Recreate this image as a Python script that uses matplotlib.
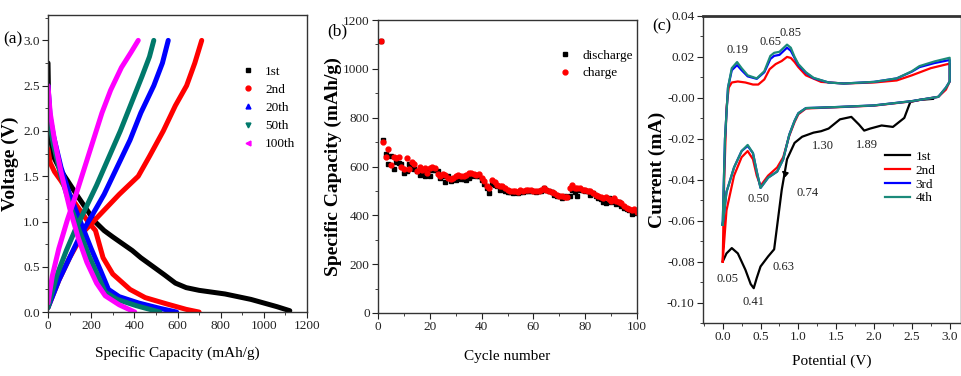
import matplotlib
matplotlib.use('Agg')
import matplotlib.pyplot as plt
from matplotlib.lines import Line2D
from matplotlib.ticker import MultipleLocator
import numpy as np

plt.rcParams['font.family'] = ['Liberation Serif', 'DejaVu Serif']
plt.rcParams['axes.unicode_minus'] = False
plt.rcParams['xtick.direction'] = 'out'
plt.rcParams['ytick.direction'] = 'out'

# ---------------- (a) charge/discharge profiles ----------------
cycles_a = ['1st', '2nd', '20th', '50th', '100th']
colors_a = ['black', '#ff0000', '#0000ff', '#00796b', '#ff00ff']
markers_a = ['s', 'o', '^', 'v', '<']

dis_cap = [
    [0, 3, 10, 25, 50, 77, 110, 140, 180, 217, 260, 300, 348, 390, 430, 488, 540, 590, 640,
     700, 760, 820, 880, 940, 1000, 1060, 1100, 1120],
    [0, 10, 30, 60, 120, 185, 220, 255, 300, 380, 450, 550, 640, 700],
    [0, 10, 25, 60, 100, 150, 200, 245, 280, 330, 420, 520, 596],
    [0, 10, 25, 60, 100, 145, 190, 235, 265, 320, 410, 518],
    [0, 10, 30, 60, 100, 140, 180, 225, 265, 330, 402],
]
dis_v = [
    [2.75, 2.3, 1.95, 1.72, 1.6, 1.5, 1.38, 1.27, 1.13, 1.0, 0.9, 0.83, 0.75, 0.68, 0.6, 0.5,
     0.41, 0.32, 0.27, 0.24, 0.22, 0.2, 0.17, 0.14, 0.10, 0.06, 0.03, 0.015],
    [1.8, 1.65, 1.55, 1.45, 1.22, 1.0, 0.9, 0.6, 0.42, 0.25, 0.16, 0.09, 0.03, 0.0],
    [2.5, 2.15, 1.95, 1.6, 1.3, 1.0, 0.7, 0.45, 0.25, 0.17, 0.1, 0.04, 0.0],
    [2.3, 2.05, 1.85, 1.5, 1.2, 0.9, 0.62, 0.38, 0.22, 0.14, 0.07, 0.0],
    [2.5, 2.2, 1.9, 1.55, 1.15, 0.82, 0.55, 0.32, 0.18, 0.08, 0.0],
]
chg_cap = [
    [],
    [0, 50, 100, 170, 250, 330, 418, 470, 534, 590, 642, 680, 712],
    [0, 50, 100, 150, 200, 260, 320, 380, 430, 490, 530, 557],
    [0, 40, 85, 130, 175, 225, 280, 335, 385, 435, 470, 490],
    [0, 20, 50, 90, 130, 170, 210, 250, 290, 340, 385, 418],
]
chg_v = [
    [],
    [0.05, 0.35, 0.6, 0.9, 1.1, 1.3, 1.5, 1.72, 2.0, 2.28, 2.5, 2.75, 3.0],
    [0.05, 0.35, 0.6, 0.85, 1.05, 1.3, 1.6, 1.9, 2.2, 2.5, 2.75, 3.0],
    [0.05, 0.4, 0.68, 0.93, 1.15, 1.4, 1.7, 2.0, 2.3, 2.6, 2.82, 3.0],
    [0.1, 0.4, 0.7, 1.02, 1.3, 1.6, 1.9, 2.2, 2.45, 2.7, 2.87, 3.0],
]

# ---------------- (b) cycling performance ----------------
cycle_no = list(range(1, 101))
discharge = [1115, 710, 650, 610, 645, 590, 620, 615, 610, 575,
             580, 610, 600, 590, 580, 565, 575, 560, 580, 560,
             585, 585, 580, 555, 560, 535, 560, 540, 550, 545,
             555, 550, 550, 545, 555, 560, 565, 560, 560, 545,
             530, 510, 490, 530, 525, 520, 505, 515, 500, 495,
             495, 490, 495, 490, 495, 495, 500, 500, 500, 500,
             495, 500, 500, 510, 505, 500, 495, 485, 480, 480,
             470, 480, 475, 480, 505, 495, 480, 505, 505, 500,
             500, 485, 490, 480, 470, 465, 455, 450, 470, 455,
             460, 445, 455, 440, 430, 425, 420, 405, 415, 410]
charge = [1115, 700, 640, 670, 605, 640, 635, 640, 600, 590,
          635, 590, 620, 610, 580, 600, 585, 595, 575, 595,
          600, 595, 570, 560, 570, 565, 555, 550, 555, 560,
          565, 560, 560, 565, 575, 575, 570, 565, 570, 555,
          540, 520, 510, 545, 535, 525, 520, 520, 510, 505,
          500, 500, 500, 495, 505, 500, 505, 505, 505, 500,
          500, 500, 505, 510, 505, 500, 495, 490, 485, 480,
          480, 475, 475, 510, 525, 510, 510, 510, 505, 505,
          500, 500, 490, 485, 480, 475, 470, 475, 465, 460,
          470, 460, 455, 450, 440, 430, 425, 420, 425, 415]

# ---------------- (c) cyclic voltammetry ----------------
cv_labels = ['1st', '2nd', '3rd', '4th']
cv_colors = ['black', '#ff0000', '#0000ff', '#1b8a7a']
cv_e = [
    [2.78, 2.6, 2.48, 2.4, 2.25, 2.1, 1.95, 1.87, 1.8, 1.7, 1.55, 1.4, 1.3, 1.2, 1.05, 0.95, 0.85,
     0.78, 0.73, 0.68, 0.6, 0.5, 0.45, 0.41, 0.37, 0.3, 0.2, 0.12, 0.05, 0.0],
    [0.0, 0.02, 0.05, 0.08, 0.12, 0.2, 0.3, 0.4, 0.47, 0.55, 0.62, 0.7, 0.78, 0.85, 0.9, 0.95, 1.0,
     1.1, 1.3, 1.6, 2.0, 2.3, 2.5, 2.75, 2.95, 3.0,
     3.0, 2.95, 2.85, 2.5, 2.0, 1.5, 1.1, 1.0, 0.95, 0.88, 0.8, 0.72, 0.6, 0.5, 0.45, 0.4, 0.33,
     0.25, 0.15, 0.05, 0.0],
    [0.0, 0.03, 0.07, 0.12, 0.19, 0.25, 0.33, 0.45, 0.55, 0.63, 0.68, 0.75, 0.85, 0.9, 0.95, 1.0,
     1.1, 1.2, 1.4, 1.6, 2.0, 2.3, 2.5, 2.6, 2.8, 3.0,
     3.0, 2.95, 2.85, 2.5, 2.0, 1.5, 1.1, 1.0, 0.95, 0.88, 0.8, 0.72, 0.6, 0.5, 0.45, 0.4, 0.33,
     0.25, 0.15, 0.05, 0.0],
    [0.0, 0.03, 0.07, 0.12, 0.19, 0.25, 0.33, 0.45, 0.55, 0.63, 0.68, 0.75, 0.85, 0.9, 0.95, 1.0,
     1.1, 1.2, 1.4, 1.6, 2.0, 2.3, 2.5, 2.6, 2.8, 3.0,
     3.0, 2.95, 2.85, 2.5, 2.0, 1.5, 1.1, 1.0, 0.95, 0.88, 0.8, 0.72, 0.6, 0.5, 0.45, 0.4, 0.33,
     0.25, 0.15, 0.05, 0.0],
]
cv_i = [
    [-0.0005, -0.001, -0.002, -0.0098, -0.0142, -0.0135, -0.015, -0.016, -0.013, -0.0093, -0.0105,
     -0.015, -0.0163, -0.017, -0.019, -0.022, -0.03, -0.045, -0.0595, -0.074, -0.0775, -0.0824,
     -0.088, -0.093, -0.091, -0.084, -0.076, -0.0734, -0.076, -0.080],
    [-0.080, -0.04, -0.005, 0.005, 0.0075, 0.008, 0.0075, 0.0065, 0.0065, 0.009, 0.014, 0.0165,
     0.018, 0.020, 0.0195, 0.0175, 0.015, 0.011, 0.0078, 0.007, 0.0075, 0.0085, 0.011, 0.0145,
     0.0163, 0.0167,
     0.008, 0.004, 0.0005, -0.0017, -0.0038, -0.0046, -0.0052, -0.008, -0.0118, -0.0185, -0.029,
     -0.034, -0.038, -0.043, -0.038, -0.030, -0.026, -0.029, -0.038, -0.055, -0.080],
    [-0.062, -0.02, 0.005, 0.0135, 0.016, 0.0135, 0.0105, 0.0093, 0.0125, 0.019, 0.0205, 0.021,
     0.0245, 0.023, 0.0195, 0.016, 0.0122, 0.0096, 0.0075, 0.007, 0.0078, 0.0095, 0.0128, 0.015,
     0.017, 0.0185,
     0.008, 0.005, 0.0005, -0.0016, -0.0037, -0.0045, -0.005, -0.0075, -0.0112, -0.018, -0.030,
     -0.036, -0.039, -0.044, -0.036, -0.027, -0.0235, -0.026, -0.034, -0.046, -0.062],
    [-0.062, -0.02, 0.005, 0.0145, 0.0175, 0.0145, 0.011, 0.0095, 0.013, 0.0205, 0.022, 0.0225,
     0.026, 0.0245, 0.020, 0.0165, 0.0125, 0.0098, 0.0075, 0.007, 0.0078, 0.0095, 0.013, 0.0155,
     0.0178, 0.0196,
     0.008, 0.005, 0.0005, -0.0016, -0.0037, -0.0045, -0.005, -0.0075, -0.0112, -0.018, -0.030,
     -0.036, -0.039, -0.044, -0.036, -0.027, -0.023, -0.026, -0.034, -0.046, -0.062],
]
peak_text = ['0.19', '0.65', '0.85', '1.30', '1.89', '0.50', '0.05', '0.41', '0.63']
peak_x = [0.19, 0.63, 0.90, 1.32, 1.90, 0.47, 0.06, 0.41, 0.80]
peak_y = [0.0235, 0.0275, 0.0315, -0.0235, -0.0228, -0.0495, -0.0885, -0.0998, -0.0825]

fig = plt.figure(figsize=(9.62, 3.76), dpi=100)


def style(ax):
    for s in ax.spines.values():
        s.set_linewidth(1.0)
        s.set_color('#333333')
    ax.tick_params(which='both', top=False, right=False, labelsize=9.5, colors='#222222', pad=2)
    ax.tick_params(which='major', length=4)
    ax.tick_params(which='minor', length=2.5)


# (a)
ax1 = fig.add_axes([0.0499, 0.170, 0.2693, 0.790])
for k in range(len(cycles_a)):
    ax1.plot(dis_cap[k], dis_v[k], color=colors_a[k], lw=3.6, solid_capstyle='round')
    if chg_cap[k]:
        ax1.plot(chg_cap[k], chg_v[k], color=colors_a[k], lw=3.6, solid_capstyle='round')
ax1.set_xlim(0, 1200)
ax1.set_ylim(0, 3.28)
ax1.xaxis.set_major_locator(MultipleLocator(200))
ax1.xaxis.set_minor_locator(MultipleLocator(100))
ax1.yaxis.set_major_locator(MultipleLocator(0.5))
ax1.yaxis.set_minor_locator(MultipleLocator(0.25))
ax1.yaxis.set_major_formatter(plt.FormatStrFormatter('%.1f'))
style(ax1)
ax1.set_xlabel('Specific Capacity (mAh/g)', fontsize=11, labelpad=10)
ax1.set_ylabel('Voltage (V)', fontsize=14, fontweight='bold', labelpad=3)
handles = [Line2D([], [], color=c, marker=m, linestyle='none', markersize=3.5)
           for c, m in zip(colors_a, markers_a)]
ax1.legend(handles, cycles_a, loc='upper right', bbox_to_anchor=(1.0, 0.87), frameon=False,
           fontsize=9.5, handletextpad=0.3, labelspacing=0.45)
fig.text(0.003, 0.885, '(a)', fontsize=12.5)

# (b)
ax2 = fig.add_axes([0.393, 0.1676, 0.2692, 0.779])
ax2.plot(cycle_no, discharge, 's', color='black', markersize=3.5, label='discharge')
ax2.plot(cycle_no, charge, 'o', color='#ff0000', markersize=3.5, label='charge')
ax2.set_xlim(0, 100)
ax2.set_ylim(0, 1200)
ax2.xaxis.set_major_locator(MultipleLocator(20))
ax2.xaxis.set_minor_locator(MultipleLocator(10))
ax2.yaxis.set_major_locator(MultipleLocator(200))
ax2.yaxis.set_minor_locator(MultipleLocator(100))
style(ax2)
ax2.set_xlabel('Cycle number', fontsize=11, labelpad=12)
ax2.set_ylabel('Specific Capacity (mAh/g)', fontsize=14, fontweight='bold', labelpad=1)
ax2.legend(loc='upper right', bbox_to_anchor=(1.03, 0.94), frameon=False, fontsize=9.5,
           handletextpad=0.3, labelspacing=0.4, markerscale=1.0)
fig.text(0.340, 0.905, '(b)', fontsize=12.5)

# (c)
ax3 = fig.add_axes([0.7308, 0.141, 0.2682, 0.8165])
for k in range(len(cv_labels)):
    ax3.plot(cv_e[k], cv_i[k], color=cv_colors[k], lw=1.6, label=cv_labels[k])
ax3.set_xlim(-0.26, 3.15)
ax3.set_ylim(-0.11, 0.04)
ax3.xaxis.set_major_locator(MultipleLocator(0.5))
ax3.xaxis.set_minor_locator(MultipleLocator(0.25))
ax3.yaxis.set_major_locator(MultipleLocator(0.02))
ax3.yaxis.set_minor_locator(MultipleLocator(0.01))
ax3.xaxis.set_major_formatter(plt.FormatStrFormatter('%.1f'))
ax3.yaxis.set_major_formatter(plt.FormatStrFormatter('%.2f'))
style(ax3)
ax3.spines['top'].set_linewidth(2.0)
ax3.set_xlabel('Potential (V)', fontsize=11, labelpad=8)
ax3.set_ylabel('Current (mA)', fontsize=14, fontweight='bold', labelpad=1)
for t, x, y in zip(peak_text, peak_x, peak_y):
    ax3.text(x, y, t, fontsize=9, ha='center', va='center', color='#222222')
ax3.annotate('0.74', xy=(0.78, -0.0355), xytext=(1.12, -0.0465), fontsize=9,
             ha='center', va='center', color='#222222',
             arrowprops=dict(arrowstyle='-|>', color='black', lw=1.2,
                             shrinkA=12, shrinkB=0, mutation_scale=8))
ax3.legend(loc='upper left', bbox_to_anchor=(0.66, 0.60), frameon=False, fontsize=9.5,
           handlelength=1.9, handletextpad=0.4, labelspacing=0.12)
fig.text(0.678, 0.92, '(c)', fontsize=12.5)

fig.savefig('out.png', dpi=100)
